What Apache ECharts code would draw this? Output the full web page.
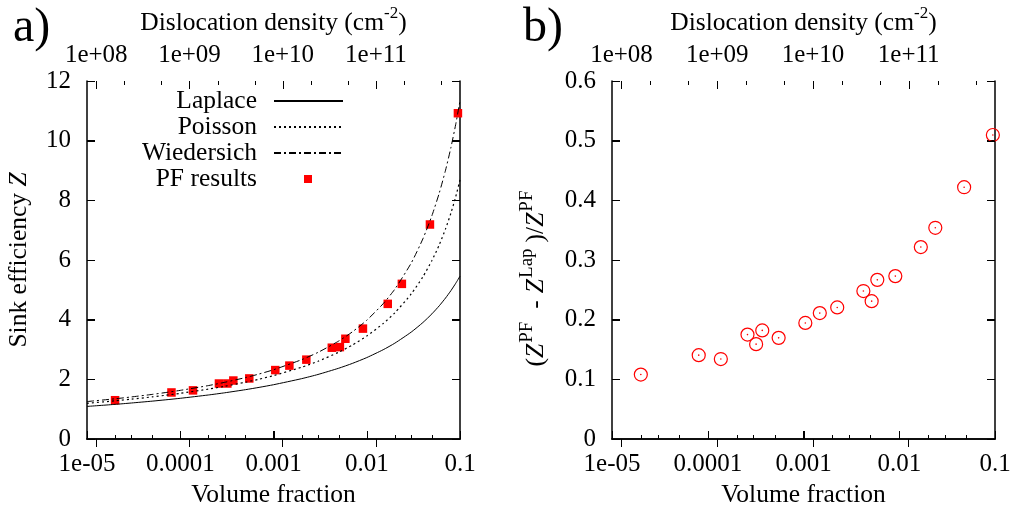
<!DOCTYPE html>
<html><head><meta charset="utf-8">
<script src="https://cdn.jsdelivr.net/npm/echarts@6/dist/echarts.min.js"></script>
<style>html,body{margin:0;padding:0;background:#fff}#c{width:1016px;height:513px}</style>
</head><body><div id="c"></div>
<script>
// ---- data ----
const pfFraction = [2.0e-5, 8.05e-5, 1.37e-4, 2.6e-4, 3.2e-4, 3.71e-4, 5.5e-4, 1.045e-3, 1.48e-3, 2.25e-3, 4.22e-3, 5.15e-3, 5.9e-3, 9.1e-3, 0.0168, 0.0238, 0.0476, 0.095];
const pfZ = [1.30, 1.56, 1.63, 1.86, 1.86, 1.96, 2.03, 2.31, 2.46, 2.66, 3.06, 3.08, 3.36, 3.70, 4.53, 5.20, 7.19, 10.92];
const pfRelDiff = [0.108, 0.1405, 0.134, 0.175, 0.159, 0.182, 0.1695, 0.1945, 0.211, 0.2205, 0.248, 0.231, 0.2667, 0.273, 0.3217, 0.354, 0.422, 0.5095];
const curveFraction = [1e-5, 2e-5, 3e-5, 5e-5, 7e-5, 1e-4, 2e-4, 3e-4, 5e-4, 7e-4, 1e-3, 2e-3, 3e-3, 5e-3, 7e-3, 0.01, 0.015, 0.02, 0.03, 0.04, 0.05, 0.06, 0.07, 0.08, 0.09, 0.1];
const zLaplace = [1.092, 1.161, 1.207, 1.269, 1.314, 1.364, 1.475, 1.549, 1.653, 1.730, 1.819, 2.022, 2.163, 2.372, 2.533, 2.729, 2.992, 3.212, 3.584, 3.904, 4.195, 4.467, 4.726, 4.975, 5.219, 5.458];
const zPoisson = [1.195, 1.280, 1.335, 1.411, 1.467, 1.530, 1.671, 1.767, 1.903, 2.005, 2.125, 2.405, 2.605, 2.909, 3.150, 3.451, 3.869, 4.229, 4.863, 5.437, 5.982, 6.514, 7.044, 7.577, 8.122, 8.683];
const zWiedersich = [1.255, 1.348, 1.410, 1.495, 1.558, 1.630, 1.790, 1.900, 2.058, 2.178, 2.321, 2.658, 2.903, 3.283, 3.590, 3.981, 4.535, 5.023, 5.899, 6.710, 7.487, 8.251, 9.012, 9.776, 10.549, 11.337];

// ---- axes ticks ----
const fractionRange = [1e-5, 0.1];
const fractionTicks = [1e-5, 1e-4, 1e-3, 1e-2, 1e-1];
const fractionLabels = ['1e-05', '0.0001', '0.001', '0.01', '0.1'];
const fractionMinorTicks = [2e-5, 3e-5, 5e-5, 2e-4, 3e-4, 5e-4, 2e-3, 3e-3, 5e-3, 2e-2, 3e-2, 5e-2];
const densityRange = [7.96e7, 7.96e11];
const densityTicks = [1e8, 1e9, 1e10, 1e11];
const densityLabels = ['1e+08', '1e+09', '1e+10', '1e+11'];
const densityMinorTicks = [2e8, 5e8, 2e9, 5e9, 2e10, 5e10, 2e11, 5e11];
const zAxisRange = [0, 12, 2];
const zTicks = [0, 2, 4, 6, 8, 10, 12];
const relAxisRange = [0, 0.6, 0.1];
const relTicks = [0, 0.1, 0.2, 0.3, 0.4, 0.5, 0.6];

const FONT = 'Liberation Serif';
const FS = 25;
const BLACK = '#000';
const RED = '#ff0000';
const MAJOR = 8, MINOR = 4;

function labelFrom(ticks, labels) {
  return function (v) {
    for (let i = 0; i < ticks.length; i++) {
      if (Math.abs(v - ticks[i]) / ticks[i] < 1e-6) return labels[i];
    }
    return '';
  };
}
const richName = {
  a: { fontSize: FS + 0.5, fontFamily: FONT, color: BLACK, lineHeight: 36 },
  d: { fontSize: FS + 0.5, fontFamily: FONT, color: BLACK, lineHeight: 36, padding: [0, 7, 0, 7] },
  z: { fontSize: FS + 0.5, fontFamily: FONT, color: BLACK, lineHeight: 36, fontStyle: 'italic' },
  s: { fontSize: 17, fontFamily: FONT, color: BLACK, lineHeight: 17, verticalAlign: 'top' },
  p: { fontSize: 19, fontFamily: FONT, color: BLACK, lineHeight: 19, verticalAlign: 'top', padding: [0, 6, 0, 1] }
};
function axLine() { return { show: true, lineStyle: { color: BLACK, width: 1.5 } }; }
function ticks(len, extra) { return Object.assign({ show: true, inside: true, length: len, lineStyle: { color: BLACK, width: 1 } }, extra || {}); }
function xAxesFor(grid) {
  return [
    { gridIndex: grid, type: 'log', logBase: 10, min: fractionRange[0], max: fractionRange[1], position: 'bottom',
      axisLine: axLine(), splitLine: { show: false },
      axisTick: ticks(MAJOR, { customValues: fractionTicks }),
      axisLabel: { show: true, customValues: fractionTicks, formatter: labelFrom(fractionTicks, fractionLabels), margin: 13,
        fontSize: FS, fontFamily: FONT, color: BLACK },
      name: 'Volume fraction', nameLocation: 'middle', nameGap: 40,
      nameTextStyle: { fontSize: FS + 0.5, fontFamily: FONT, color: BLACK } },
    { gridIndex: grid, type: 'log', logBase: 10, min: densityRange[0], max: densityRange[1], position: 'top',
      axisLine: axLine(), splitLine: { show: false },
      axisTick: ticks(MAJOR, { customValues: densityTicks }),
      axisLabel: { show: true, customValues: densityTicks, formatter: labelFrom(densityTicks, densityLabels), margin: 13,
        fontSize: FS, fontFamily: FONT, color: BLACK },
      name: '{a|Dislocation density (cm}{s|-2}{a|)}', nameLocation: 'middle', nameGap: 40,
      nameTextStyle: { rich: richName } }
  ];
}
function yAxesFor(grid, range, name, nameGap, namePad) {
  return [
    { gridIndex: grid, type: 'value', min: range[0], max: range[1], interval: range[2], position: 'left',
      axisLine: axLine(), splitLine: { show: false },
      axisTick: ticks(MAJOR),
      axisLabel: { show: true, margin: 16, fontSize: FS, fontFamily: FONT, color: BLACK },
      name: name, nameLocation: 'middle', nameGap: nameGap,
      nameTextStyle: { rich: richName, padding: namePad } },
    { gridIndex: grid, type: 'value', min: range[0], max: range[1], interval: range[2], position: 'right',
      axisLine: axLine(), splitLine: { show: false }, axisLabel: { show: false },
      axisTick: ticks(MAJOR) }
  ];
}
function pairs(xs, ys) { return xs.map((x, i) => [x, ys[i]]); }
const hideSym = { opacity: 0 };

// tick marks placed through the axes' own scales: [x, y, dxPixels, dyPixels]
function borderTickItems(yRange, yTicks) {
  const items = [];
  fractionTicks.forEach(v => items.push([v, yRange[0], 0, -MAJOR]));
  fractionMinorTicks.forEach(v => items.push([v, yRange[0], 0, -MINOR]));
  yTicks.forEach(v => { items.push([fractionRange[0], v, MAJOR, 0]); items.push([fractionRange[1], v, -MAJOR, 0]); });
  return items;
}
function topTickItems(yRange) {
  const items = [];
  densityTicks.forEach(v => items.push([v, yRange[1], 0, MAJOR]));
  densityMinorTicks.forEach(v => items.push([v, yRange[1], 0, MINOR]));
  return items;
}
function drawTick(params, api) {
  const p = api.coord([api.value(0), api.value(1)]);
  const dx = api.value(2), dy = api.value(3);
  const x = dx === 0 ? Math.round(p[0]) + 0.5 : p[0];
  const y = dy === 0 ? Math.round(p[1]) + 0.5 : p[1];
  return { type: 'line', shape: { x1: x, y1: y, x2: x + dx, y2: y + dy }, style: { stroke: BLACK, lineWidth: 1 } };
}
function tickSeries(name, xi, yi, items) {
  return { name: name, type: 'custom', xAxisIndex: xi, yAxisIndex: yi, data: items, encode: { x: 0, y: 1 },
    renderItem: drawTick, silent: true, z: 5, clip: false, tooltip: { show: false } };
}

const option = {
  animation: false,
  backgroundColor: '#fff',
  title: [
    { text: 'a)', left: 8, top: -1, textStyle: { fontSize: 48, fontWeight: 'normal', fontFamily: FONT, color: BLACK } },
    { text: 'b)', left: 518, top: -1, textStyle: { fontSize: 48, fontWeight: 'normal', fontFamily: FONT, color: BLACK } }
  ],
  grid: [
    { left: 87, top: 79, width: 373, height: 360 },
    { left: 612, top: 80, width: 383, height: 359 }
  ],
  xAxis: xAxesFor(0).concat(xAxesFor(1)),
  yAxis: yAxesFor(0, zAxisRange, '{a|Sink efficiency }{z|Z}', 50, [0, 0, 0, 0])
    .concat(yAxesFor(1, relAxisRange, '{a|(}{z|Z}{p|PF}{d|-}{z|Z}{p|Lap}{a|)/}{z|Z}{p|PF}', 58, [0, 31, 0, 0])),
  legend: {
    orient: 'vertical', align: 'right', right: 672, top: 88, padding: 0, itemGap: 0,
    itemWidth: 69, itemHeight: 14,
    textStyle: { fontSize: FS + 0.5, fontFamily: FONT, color: BLACK, lineHeight: 25.5, padding: [0, 12, 0, 0] },
    data: [
      { name: 'Laplace', itemStyle: hideSym }, { name: 'Poisson', itemStyle: hideSym }, { name: 'Wiedersich', itemStyle: hideSym },
      { name: 'PF results', icon: 'path://M0,0M69,14M30,3h8v8h-8z' }
    ],
    selectedMode: false
  },
  series: [
    { name: 'Laplace', type: 'line', xAxisIndex: 0, yAxisIndex: 0, data: pairs(curveFraction, zLaplace),
      symbol: 'none', smooth: 0.2, lineStyle: { color: BLACK, width: 1 }, itemStyle: { color: BLACK } },
    { name: 'Poisson', type: 'line', xAxisIndex: 0, yAxisIndex: 0, data: pairs(curveFraction, zPoisson),
      symbol: 'none', smooth: 0.2, lineStyle: { color: BLACK, width: 1.2, type: [2, 3] }, itemStyle: { color: BLACK } },
    { name: 'Wiedersich', type: 'line', xAxisIndex: 0, yAxisIndex: 0, data: pairs(curveFraction, zWiedersich),
      symbol: 'none', smooth: 0.2, lineStyle: { color: BLACK, width: 1, type: [7, 3, 2, 3] }, itemStyle: { color: BLACK } },
    { name: 'PF results', type: 'scatter', xAxisIndex: 0, yAxisIndex: 0, data: pairs(pfFraction, pfZ),
      symbol: 'rect', symbolSize: 8.5, itemStyle: { color: RED, opacity: 1 } },
    { name: 'PF relative difference', type: 'scatter', xAxisIndex: 2, yAxisIndex: 2, data: pairs(pfFraction, pfRelDiff),
      symbol: 'circle', symbolSize: 13, itemStyle: { color: 'rgba(0,0,0,0)', borderColor: RED, borderWidth: 1.2, opacity: 1 } },
    { name: 'PF relative difference centre', type: 'scatter', xAxisIndex: 2, yAxisIndex: 2, data: pairs(pfFraction, pfRelDiff),
      symbol: 'circle', symbolSize: 1.6, itemStyle: { color: RED, opacity: 1 } },
    tickSeries('ticks a', 0, 0, borderTickItems(zAxisRange, zTicks)),
    tickSeries('top ticks a', 1, 0, topTickItems(zAxisRange)),
    tickSeries('ticks b', 2, 2, borderTickItems(relAxisRange, relTicks)),
    tickSeries('top ticks b', 3, 2, topTickItems(relAxisRange))
  ]
};
const chart = echarts.init(document.getElementById('c'), null, { renderer: 'canvas' });
chart.setOption(option);
</script></body></html>
